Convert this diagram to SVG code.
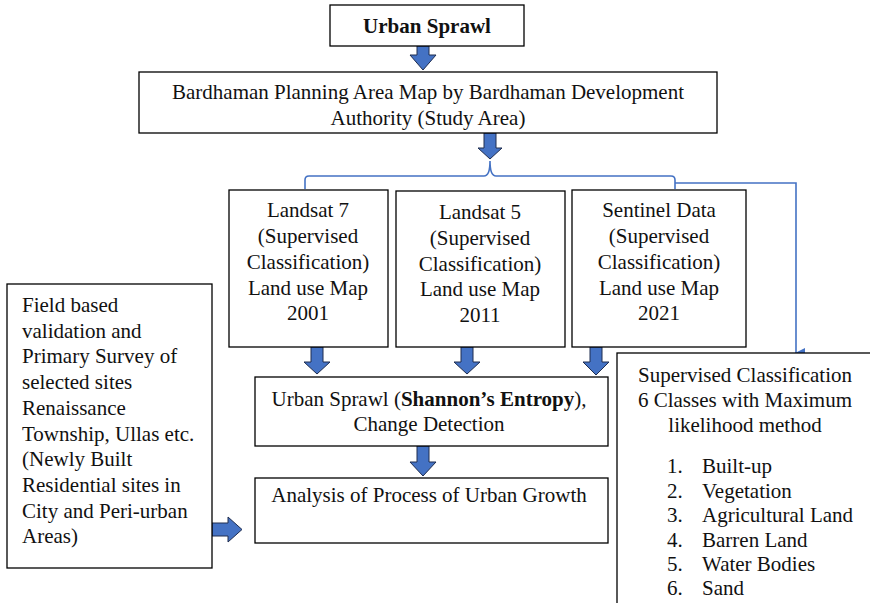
<svg xmlns="http://www.w3.org/2000/svg" width="870" height="603" viewBox="0 0 870 603">
<style>
.box{fill:#fff;stroke:#000;stroke-width:1.3}
.t{font-family:"Liberation Serif","Times New Roman",serif;font-size:21px;fill:#111}
.c{text-anchor:middle}
.b{font-weight:bold}
.arr{fill:#4472c4;stroke:#1f2d4f;stroke-width:1}
.ln{fill:none;stroke:#4472c4;stroke-width:1.6}
</style>
<defs>
<marker id="ah" markerWidth="10" markerHeight="10" refX="5" refY="9" orient="auto" markerUnits="userSpaceOnUse" viewBox="0 0 10 10">
<path d="M0,0 L10,0 L5,10 Z" fill="#4472c4"/>
</marker>
</defs>
<rect width="870" height="603" fill="#fff"/>

<g id="connectors">
<path class="ln" d="M305,189 L305,180 Q305,176 309,176 L484,176 Q490,176 490,161 Q490,176 496,176 L671,176 Q675,176 675,180 L675,189"/>
<path class="ln" d="M675,183 L796,183 L796,353" marker-end="url(#ah)"/>
<path class="arr" d="M417,46 L429,46 L429,55 L436,55 L423,70 L410,55 L417,55 Z"/>
<path class="arr" d="M484,133 L496,133 L496,148 L502,148 L490,159 L478,148 L484,148 Z"/>
<path class="arr" d="M311,347 L323,347 L323,362 L330,362 L317,374 L304,362 L311,362 Z"/>
<path class="arr" d="M461,347 L473,347 L473,362 L480,362 L467,374 L454,362 L461,362 Z"/>
<path class="arr" d="M590,347 L602,347 L602,362 L609,362 L596,375 L583,362 L590,362 Z"/>
<path class="arr" d="M417,446 L429,446 L429,462 L436,462 L423,476 L410,462 L417,462 Z"/>
<path class="arr" d="M212,523 L228,523 L228,517 L242,529.5 L228,542 L228,536 L212,536 Z"/>
</g>

<g id="urban-sprawl">
<rect class="box" x="330" y="5" width="194" height="41"/>
<text class="t c b" x="427" y="33">Urban Sprawl</text>
</g>

<g id="study-area">
<rect class="box" x="139" y="72" width="578" height="61"/>
<text class="t c" x="428" y="99">Bardhaman Planning Area Map by Bardhaman Development</text>
<text class="t c" x="428" y="125">Authority (Study Area)</text>
</g>

<g id="landsat7">
<rect class="box" x="229" y="190" width="159" height="157"/>
<text class="t c" x="308" y="217">Landsat 7</text>
<text class="t c" x="308" y="243">(Supervised</text>
<text class="t c" x="308" y="269">Classification)</text>
<text class="t c" x="308" y="295">Land use Map</text>
<text class="t c" x="308" y="320">2001</text>
</g>

<g id="landsat5">
<rect class="box" x="396" y="191" width="169" height="156"/>
<text class="t c" x="480" y="219">Landsat 5</text>
<text class="t c" x="480" y="245">(Supervised</text>
<text class="t c" x="480" y="271">Classification)</text>
<text class="t c" x="480" y="296">Land use Map</text>
<text class="t c" x="480" y="322">2011</text>
</g>

<g id="sentinel">
<rect class="box" x="572" y="190" width="174" height="157"/>
<text class="t c" x="659" y="217">Sentinel Data</text>
<text class="t c" x="659" y="243">(Supervised</text>
<text class="t c" x="659" y="269">Classification)</text>
<text class="t c" x="659" y="295">Land use Map</text>
<text class="t c" x="659" y="320">2021</text>
</g>

<g id="field-validation">
<rect class="box" x="7" y="284" width="205" height="284"/>
<text class="t" x="22" y="312">Field based</text>
<text class="t" x="22" y="337.7">validation and</text>
<text class="t" x="22" y="363.4">Primary Survey of</text>
<text class="t" x="22" y="389.1">selected sites</text>
<text class="t" x="22" y="414.8">Renaissance</text>
<text class="t" x="22" y="440.5">Township, Ullas etc.</text>
<text class="t" x="22" y="466.2">(Newly Built</text>
<text class="t" x="22" y="491.9">Residential sites in</text>
<text class="t" x="22" y="517.6">City and Peri-urban</text>
<text class="t" x="22" y="543.3">Areas)</text>
</g>

<g id="shannon">
<rect class="box" x="255" y="377" width="353" height="69"/>
<text class="t c" x="429" y="406">Urban Sprawl (<tspan class="b">Shannon’s Entropy</tspan>),</text>
<text class="t c" x="429" y="431">Change Detection</text>
</g>

<g id="analysis">
<rect class="box" x="255" y="478" width="353" height="65"/>
<text class="t c" x="429" y="502">Analysis of Process of Urban Growth</text>
</g>

<g id="classification">
<rect class="box" x="617" y="353" width="270" height="270"/>
<text class="t c" x="745" y="382">Supervised Classification</text>
<text class="t c" x="745" y="407">6 Classes with Maximum</text>
<text class="t c" x="745" y="432">likelihood method</text>
<text class="t" x="667" y="473">1.</text><text class="t" x="702" y="473">Built-up</text>
<text class="t" x="667" y="498">2.</text><text class="t" x="702" y="498">Vegetation</text>
<text class="t" x="667" y="522">3.</text><text class="t" x="702" y="522">Agricultural Land</text>
<text class="t" x="667" y="547">4.</text><text class="t" x="702" y="547">Barren Land</text>
<text class="t" x="667" y="571">5.</text><text class="t" x="702" y="571">Water Bodies</text>
<text class="t" x="667" y="595">6.</text><text class="t" x="702" y="595">Sand</text>
</g>
</svg>
